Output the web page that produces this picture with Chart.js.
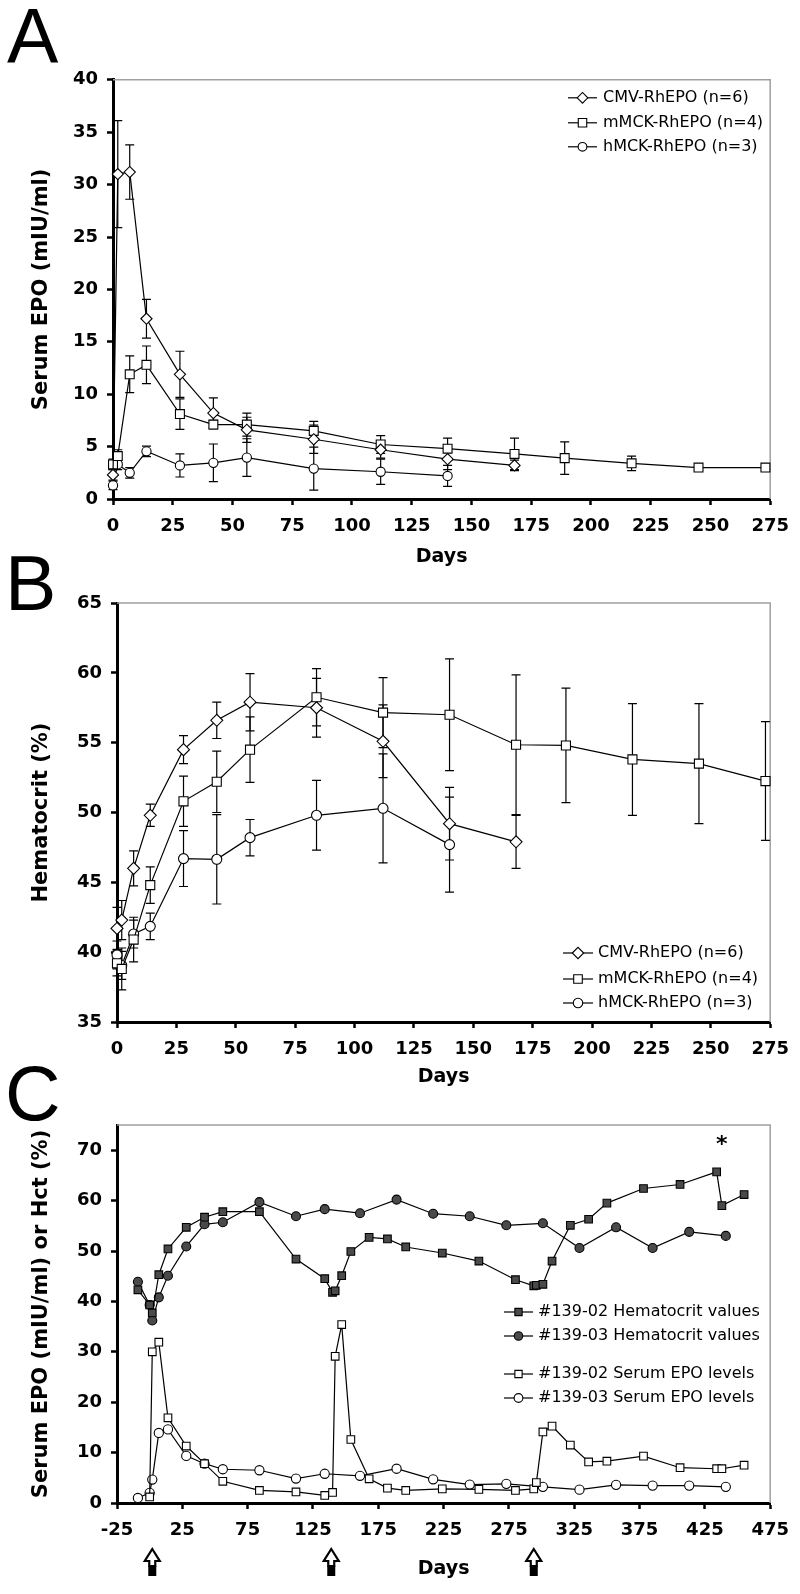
<!DOCTYPE html>
<html lang="en">
<head>
<meta charset="UTF-8">
<title>Serum EPO and hematocrit after RhEPO gene transfer</title>
<script src="https://cdn.jsdelivr.net/npm/chart.js@4.4.1/dist/chart.umd.min.js"></script>
<style>
  body { margin: 0; background: #fff; width: 800px; height: 1594px; position: relative; overflow: hidden; }
  .panel { position: absolute; left: 0; width: 800px; }
  .letter { position: absolute; font-family: "Liberation Sans", Arial, sans-serif; font-size: 77px; line-height: 77px; color: #000; }
</style>
</head>
<body>
<div class="letter" style="left:7px; top:-2px;">A</div>
<div class="letter" style="left:5px; top:545px;">B</div>
<div class="letter" style="left:5px; top:1055px;">C</div>

<div class="panel" style="top:60px; height:520px;"><canvas id="chartA"></canvas></div>
<div class="panel" style="top:580px; height:520px;"><canvas id="chartB"></canvas></div>
<div class="panel" style="top:1100px; height:494px;"><canvas id="chartC"></canvas></div>

<script>
// ---- data ----
const seriesLabels = ['CMV-RhEPO (n=6)', 'mMCK-RhEPO (n=4)', 'hMCK-RhEPO (n=3)'];

// panel A: serum EPO (mIU/ml)
const daysCmv  = [0, 2, 7, 14, 28, 42, 56, 84, 112, 140, 168];
const daysMmck = [0, 2, 7, 14, 28, 42, 56, 84, 112, 140, 168, 189, 217, 245, 273];
const daysHmck = [0, 2, 7, 14, 28, 42, 56, 84, 112, 140];

const epoCmv     = [2.3, 31.0, 31.2, 17.2, 11.9, 8.2, 6.6, 5.7, 4.7, 3.8, 3.2];
const epoCmvErr  = [0.5, 5.1, 2.6, 1.85, 2.2, 1.45, 1.2, 1.35, 0.8, 1.0, 0.5];
const epoMmck    = [3.3, 4.1, 11.9, 12.8, 8.1, 7.1, 7.1, 6.5, 5.2, 4.8, 4.3, 3.9, 3.4, 3.0, 3.0];
const epoMmckErr = [0.5, 0.6, 1.75, 1.8, 1.45, 0.4, 1.1, 0.9, 0.85, 1.0, 1.5, 1.55, 0.7, 0.2, 0.2];
const epoHmck    = [1.3, 3.3, 2.5, 4.55, 3.2, 3.45, 3.95, 2.9, 2.6, 2.2];
const epoHmckErr = [0.4, 0.5, 0.5, 0.5, 1.1, 1.8, 1.8, 2.05, 1.2, 1.0];

// panel B: hematocrit (%)
const hctCmv     = [41.7, 42.3, 46.0, 49.8, 54.5, 56.6, 57.9, 57.5, 55.1, 49.2, 47.9];
const hctCmvErr  = [1.5, 1.4, 1.25, 0.8, 1.0, 1.3, 2.05, 2.1, 2.6, 2.6, 1.9];
const hctMmck    = [39.2, 38.8, 40.9, 44.8, 50.8, 52.2, 54.5, 58.25, 57.15, 57.0, 54.85, 54.8, 53.8, 53.5, 52.25];
const hctMmckErr = [0.9, 1.5, 1.6, 1.3, 1.8, 2.2, 2.35, 2.05, 2.5, 4.0, 5.0, 4.1, 4.0, 4.3, 4.25];
const hctHmck    = [39.8, 39.05, 41.3, 41.85, 46.7, 46.65, 48.2, 49.8, 50.3, 47.7];
const hctHmckErr = [1.0, 1.0, 1.0, 0.95, 2.0, 3.2, 1.3, 2.5, 3.9, 3.4];

const dayTicksAB = [0, 25, 50, 75, 100, 125, 150, 175, 200, 225, 250, 275];
const epoTicksA  = [0, 5, 10, 15, 20, 25, 30, 35, 40];
const hctTicksB  = [35, 40, 45, 50, 55, 60, 65];

// panel C: individual animals
const seriesLabelsC = ['#139-02 Hematocrit values', '#139-03 Hematocrit values',
                       '#139-02 Serum EPO levels', '#139-03 Serum EPO levels'];
const days02Hct = [-9, 0, 2, 7, 14, 28, 42, 56, 84, 112, 134, 140, 142, 147, 154, 168, 182, 196, 224, 252,
                   280, 294, 296, 301, 308, 322, 336, 350, 378, 406, 434, 438, 455];
const hct02     = [42.3, 39.3, 37.7, 45.3, 50.4, 54.7, 56.7, 57.8, 57.8, 48.4, 44.5, 41.8, 42.1, 45.1, 49.9, 52.7, 52.4, 50.8, 49.6, 48.0,
                   44.3, 43.1, 43.2, 43.4, 48.0, 55.1, 56.3, 59.5, 62.4, 63.2, 65.7, 59.0, 61.2];
const days02Epo = [0, 2, 7, 14, 28, 42, 56, 84, 112, 134, 140, 142, 147, 154, 168, 182, 196, 224, 252,
                   280, 294, 296, 301, 308, 322, 336, 350, 378, 406, 434, 438, 455];
const epo02     = [1.2, 30.0, 31.9, 16.9, 11.3, 7.8, 4.3, 2.5, 2.2, 1.5, 2.1, 29.1, 35.4, 12.6, 4.8, 2.95, 2.5, 2.8, 2.7,
                   2.5, 2.8, 4.05, 14.1, 15.25, 11.5, 8.15, 8.3, 9.3, 7.0, 6.8, 6.8, 7.5];
const days03    = [-9, 0, 2, 7, 14, 28, 42, 56, 84, 112, 134, 161, 189, 217, 245, 273, 301, 329, 357, 385, 413, 441];
const hct03     = [43.9, 39.3, 36.2, 40.8, 45.1, 50.9, 55.3, 55.7, 59.7, 56.9, 58.3, 57.5, 60.2, 57.4, 56.9, 55.1, 55.5, 50.6, 54.7, 50.6, 53.8, 53.0];
const epo03     = [1.0, 2.0, 4.65, 13.9, 14.6, 9.35, 7.8, 6.7, 6.5, 4.85, 5.8, 5.4, 6.8, 4.7, 3.65, 3.8, 3.2, 2.65, 3.6, 3.45, 3.45, 3.2];
const injectionDays = [2, 139, 294];
const starDay = 438, starLevel = 71;

const dayTicksC = [-25, 25, 75, 125, 175, 225, 275, 325, 375, 425, 475];
const valTicksC = [0, 10, 20, 30, 40, 50, 60, 70];

// ---- helpers ----
const pts = (xs, ys) => xs.map((x, i) => ({x: x, y: ys[i]}));

function series(label, xs, ys, errs, style, r, fill) {
  return {
    label: label,
    data: pts(xs, ys),
    errors: errs,
    borderColor: '#000',
    borderWidth: 1.2,
    pointStyle: style,
    pointRadius: r,
    pointBackgroundColor: fill || '#fff',
    pointBorderColor: '#000',
    pointBorderWidth: 1.1,
    tension: 0,
    clip: false
  };
}

// thin grey frame on top and right of the plot area
const frame = {
  id: 'frame',
  beforeDatasetsDraw(chart) {
    const {ctx, chartArea: a} = chart;
    ctx.save();
    ctx.strokeStyle = '#a0a0a0';
    ctx.lineWidth = 1.5;
    ctx.beginPath();
    ctx.moveTo(a.left, a.top);
    ctx.lineTo(a.right, a.top);
    ctx.lineTo(a.right, a.bottom);
    ctx.stroke();
    ctx.restore();
  }
};

const errorBars = {
  id: 'errorBars',
  beforeDatasetsDraw(chart) {
    const {ctx} = chart;
    const xs = chart.scales.x, ys = chart.scales.y;
    ctx.save();
    ctx.strokeStyle = '#000';
    ctx.lineWidth = 1.2;
    chart.data.datasets.forEach(ds => {
      if (!ds.errors) return;
      ds.data.forEach((p, i) => {
        const e = ds.errors[i];
        if (!e) return;
        const x = xs.getPixelForValue(p.x);
        const y1 = ys.getPixelForValue(p.y + e);
        const y2 = ys.getPixelForValue(p.y - e);
        ctx.beginPath();
        ctx.moveTo(x, y1); ctx.lineTo(x, y2);
        ctx.moveTo(x - 4.5, y1); ctx.lineTo(x + 4.5, y1);
        ctx.moveTo(x - 4.5, y2); ctx.lineTo(x + 4.5, y2);
        ctx.stroke();
      });
    });
    ctx.restore();
  }
};

const insideLegend = {
  id: 'insideLegend',
  afterDatasetsDraw(chart, args, opts) {
    const {ctx, chartArea: a} = chart;
    ctx.save();
    ctx.font = '16px "DejaVu Sans"';
    ctx.textBaseline = 'middle';
    chart.data.datasets.forEach((ds, i) => {
      const y = a.top + opts.rows[i];
      const x0 = a.left + opts.x;
      ctx.strokeStyle = '#000';
      ctx.lineWidth = 1.2;
      ctx.beginPath();
      ctx.moveTo(x0, y); ctx.lineTo(x0 + opts.len, y);
      ctx.stroke();
      ctx.fillStyle = ds.pointBackgroundColor;
      ctx.strokeStyle = ds.pointBorderColor;
      ctx.lineWidth = ds.pointBorderWidth;
      Chart.helpers.drawPoint(ctx, {pointStyle: ds.pointStyle, radius: ds.pointRadius * 0.95,
                                    borderWidth: ds.pointBorderWidth, rotation: 0}, x0 + opts.len / 2, y);
      ctx.fillStyle = '#000';
      ctx.fillText(ds.label, x0 + opts.len + opts.gap, y);
    });
    ctx.restore();
  }
};

// injection arrows under the x axis and the asterisk
const injections = {
  id: 'injections',
  afterDraw(chart, args, opts) {
    if (!opts.days) return;
    const {ctx, chartArea: a} = chart;
    const xs = chart.scales.x, ys = chart.scales.y;
    ctx.save();
    opts.days.forEach(d => {
      const x = xs.getPixelForValue(d);
      const t = a.bottom + 46;
      ctx.beginPath();
      ctx.moveTo(x, t);
      ctx.lineTo(x + 7.5, t + 12);
      ctx.lineTo(x + 3, t + 12);
      ctx.lineTo(x + 3, t + 17);
      ctx.lineTo(x - 3, t + 17);
      ctx.lineTo(x - 3, t + 12);
      ctx.lineTo(x - 7.5, t + 12);
      ctx.closePath();
      ctx.fillStyle = '#fff';
      ctx.fill();
      ctx.lineWidth = 2.2;
      ctx.strokeStyle = '#000';
      ctx.stroke();
      ctx.fillStyle = '#000';
      ctx.fillRect(x - 4, t + 17, 8, 10);
    });
    ctx.fillStyle = '#000';
    ctx.font = 'bold 22px "DejaVu Sans"';
    ctx.textAlign = 'center';
    ctx.textBaseline = 'middle';
    ctx.fillText('*', xs.getPixelForValue(opts.star.x), ys.getPixelForValue(opts.star.y));
    ctx.restore();
  }
};

function axes(o) {
  const tickFont = {family: 'DejaVu Sans', size: 18, weight: 'bold'};
  const titleFont = {family: 'DejaVu Sans', size: 21, weight: 'bold'};
  const grid = {display: true, drawOnChartArea: false, drawTicks: true, tickLength: 6, tickWidth: 2.5, tickColor: '#000'};
  return {
    x: {
      type: 'linear', min: o.xMin, max: o.xMax,
      afterBuildTicks: s => { s.ticks = o.xTicks.map(v => ({value: v})); },
      afterFit: s => { s.height = o.xH; },
      grid: grid,
      border: {display: true, color: '#000', width: 3},
      ticks: {color: '#000', font: tickFont, padding: 11, maxRotation: 0, autoSkip: false},
      title: {display: true, text: 'Days', color: '#000', font: {family: 'DejaVu Sans', size: 19, weight: 'bold'},
              padding: {top: 0, bottom: o.xTitlePad}}
    },
    y: {
      type: 'linear', min: o.yMin, max: o.yMax,
      afterBuildTicks: s => { s.ticks = o.yTicks.map(v => ({value: v})); },
      afterFit: s => { s.width = o.yW; },
      grid: grid,
      border: {display: true, color: '#000', width: 3},
      ticks: {color: '#000', font: tickFont, padding: 9, autoSkip: false},
      title: {display: true, text: o.yTitle, color: '#000', font: titleFont, padding: {top: 29, bottom: 0}}
    }
  };
}

function makeChart(id, datasets, o, legendOpts, injOpts) {
  return new Chart(document.getElementById(id), {
    type: 'line',
    data: {datasets: datasets},
    options: {
      responsive: true,
      maintainAspectRatio: false,
      animation: false,
      devicePixelRatio: 1,
      events: [],
      layout: {padding: {left: 0, right: 27, top: o.top, bottom: 0}},
      scales: axes(o),
      plugins: {
        legend: {display: false},
        tooltip: {enabled: false},
        insideLegend: legendOpts,
        injections: injOpts || {}
      }
    },
    plugins: [frame, errorBars, insideLegend, injections]
  });
}

makeChart('chartA', [
  series(seriesLabels[0], daysCmv, epoCmv, epoCmvErr, 'rectRot', 5.6),
  series(seriesLabels[1], daysMmck, epoMmck, epoMmckErr, 'rect', 6.3),
  series(seriesLabels[2], daysHmck, epoHmck, epoHmckErr, 'circle', 4.6)
], {top: 17, xH: 81, xTitlePad: 11.6, yW: 113, xMin: 0, xMax: 275, xTicks: dayTicksAB,
    yMin: 0, yMax: 40, yTicks: epoTicksA, yTitle: 'Serum EPO (mIU/ml)'},
   {x: 455, len: 29, gap: 6, rows: [18, 43, 67]});

makeChart('chartB', [
  series(seriesLabels[0], daysCmv, hctCmv, hctCmvErr, 'rectRot', 6),
  series(seriesLabels[1], daysMmck, hctMmck, hctMmckErr, 'rect', 6.4),
  series(seriesLabels[2], daysHmck, hctHmck, hctHmckErr, 'circle', 5)
], {top: 23, xH: 78, xTitlePad: 11.6, yW: 117, xMin: 0, xMax: 275, xTicks: dayTicksAB,
    yMin: 35, yMax: 65, yTicks: hctTicksB, yTitle: 'Hematocrit (%)'},
   {x: 446, len: 30, gap: 5, rows: [350, 376, 400]});

makeChart('chartC', [
  series(seriesLabelsC[0], days02Hct, hct02, null, 'rect', 5.4, '#4a4a4a'),
  series(seriesLabelsC[1], days03, hct03, null, 'circle', 4.5, '#4a4a4a'),
  series(seriesLabelsC[2], days02Epo, epo02, null, 'rect', 5.4),
  series(seriesLabelsC[3], days03, epo03, null, 'circle', 4.6)
], {top: 25, xH: 91, xTitlePad: 14, yW: 117, xMin: -25, xMax: 475, xTicks: dayTicksC,
    yMin: 0, yMax: 75, yTicks: valTicksC, yTitle: 'Serum EPO (mIU/ml) or Hct (%)'},
   {x: 387, len: 29, gap: 5, rows: [187, 211, 249, 273]},
   {days: injectionDays, star: {x: starDay, y: starLevel}});
</script>
</body>
</html>
